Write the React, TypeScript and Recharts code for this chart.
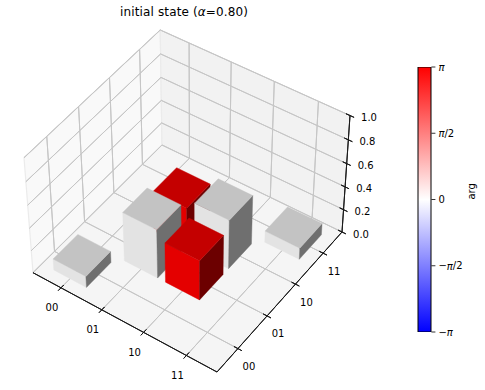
import { ScatterChart, Scatter, XAxis, YAxis, BarChart, Bar, Label } from "recharts";

// basis labels and the |rho| bars
const basis = ["00", "01", "10", "11"];
const barX = [1, 1, 2, 0, 3, 2];
const barY = [2, 1, 2, 0, 3, 1];
const barHeight = [0.35, 0.43, 0.43, 0.1, 0.1, 0.35];
const barPhase = ["pi", "zero", "zero", "zero", "zero", "pi"];
const zTicks = [0, 0.2, 0.4, 0.6, 0.8, 1];
const argTicks = [-Math.PI, -Math.PI / 2, 0, Math.PI / 2, Math.PI];
const argTickText = [["−", "π", ""], ["−", "π", "/2"], ["0", "", ""], ["", "π", "/2"], ["", "π", ""]];
const barRange = [{ name: "arg", range: [-Math.PI, Math.PI] }];

const font = "DejaVu Sans";
const lim = [-0.7, 3.7];
const barWidth = 0.81;

// camera: where the corners of the unit box land in the picture
const floorA = [33, 272.7];
const floorB = [217, 372];
const floorC = [342, 232];
const floorD = [162, 145];
const topA = [24, 155];
const topC = [350, 114];
const topD = [162, 30];

function makeCamera() {
  const [x0, y0] = floorA;
  const [x1, y1] = floorB;
  const [x2, y2] = floorC;
  const [x3, y3] = floorD;
  const dx1 = x1 - x2, dx2 = x3 - x2, sx = x0 - x1 + x2 - x3;
  const dy1 = y1 - y2, dy2 = y3 - y2, sy = y0 - y1 + y2 - y3;
  const den = dx1 * dy2 - dx2 * dy1;
  const g = (sx * dy2 - dx2 * sy) / den;
  const h = (dx1 * sy - sx * dy1) / den;
  const a = x1 - x0 + g * x1, b = x3 - x0 + h * x3;
  const d = y1 - y0 + g * y1, e = y3 - y0 + h * y3;
  const D = (u: number, v: number) => g * u + h * v + 1;
  const Nx = (u: number, v: number) => a * u + b * v + x0;
  const Ny = (u: number, v: number) => d * u + e * v + y0;
  const ka = topA[0] * D(0, 0) - Nx(0, 0);
  const kc = topC[0] * D(1, 1) - Nx(1, 1);
  const r = (kc - ka) / (topA[0] - topC[0]);
  const p = ka + topA[0] * r;
  const q = topD[1] * D(0, 1) - Ny(0, 1) + topD[1] * r;
  return (u: number, v: number, w: number) => {
    const s = D(u, v) + r * w;
    return [(Nx(u, v) + p * w) / s, (Ny(u, v) + q * w) / s];
  };
}
const camera = makeCamera();
const toUnit = (t: number) => (t - lim[0]) / (lim[1] - lim[0]);
const project = (x: number, y: number, z: number) => camera(toUnit(x), toUnit(y), z);

function facet(pts: number[][], fill: string, stroke: string, strokeWidth = 0.4) {
  const verts = pts.map(([x, y, z]) => project(x, y, z));
  return { px: verts[0][0], py: verts[0][1], verts, fill, stroke, strokeWidth };
}
const seg = (from: number[], to: number[], stroke: string, strokeWidth: number) =>
  facet([from, to], "none", stroke, strokeWidth);

const [lo, hi] = lim;
const paneEdge = "#ebebeb";
const walls = [
  facet([[lo, lo, 0], [lo, hi, 0], [lo, hi, 1], [lo, lo, 1]], "#f9f9f9", paneEdge, 1.2),
  facet([[lo, hi, 0], [hi, hi, 0], [hi, hi, 1], [lo, hi, 1]], "#f2f2f2", paneEdge, 1.2),
  facet([[lo, lo, 0], [hi, lo, 0], [hi, hi, 0], [lo, hi, 0]], "#f5f5f5", paneEdge, 1.2),
];

const gridColor = "#c6c6c6";
const grid = [
  ...basis.flatMap((_, i) => [
    seg([i, lo, 0], [i, hi, 0], gridColor, 1),
    seg([lo, i, 0], [hi, i, 0], gridColor, 1),
    seg([lo, i, 0], [lo, i, 1], gridColor, 1),
    seg([i, hi, 0], [i, hi, 1], gridColor, 1),
  ]),
  ...zTicks.flatMap((z) => [
    seg([lo, lo, z], [lo, hi, z], gridColor, 1),
    seg([lo, hi, z], [hi, hi, z], gridColor, 1),
  ]),
];

const shades: Record<string, string[]> = {
  zero: ["#c3c3c3", "#e3e3e3", "#6f6f6f"],
  pi: ["#c40000", "#e40000", "#6c0000"],
};
const bars = barX.flatMap((bx, i) => {
  const w = barWidth / 2;
  const x0 = bx - w, x1 = bx + w, y0 = barY[i] - w, y1 = barY[i] + w, z = barHeight[i];
  const [top, left, right] = shades[barPhase[i]];
  return [
    facet([[x0, y0, 0], [x1, y0, 0], [x1, y0, z], [x0, y0, z]], left, left),
    facet([[x1, y0, 0], [x1, y1, 0], [x1, y1, z], [x1, y0, z]], right, right),
    facet([[x0, y0, z], [x1, y0, z], [x1, y1, z], [x0, y1, z]], top, top),
  ];
});

const tk = 0.09;
const axes = [
  seg([lo, lo, 0], [hi, lo, 0], "#1a1a1a", 1),
  seg([hi, lo, 0], [hi, hi, 0], "#1a1a1a", 1),
  seg([hi, hi, 0], [hi, hi, 1], "#1a1a1a", 1),
  ...basis.flatMap((_, i) => [
    seg([i, lo - tk, 0], [i, lo + tk, 0], "#1a1a1a", 1),
    seg([hi - tk, i, 0], [hi + tk, i, 0], "#1a1a1a", 1),
  ]),
  ...zTicks.map((z) => seg([hi - tk, hi, z], [hi + tk, hi, z], "#1a1a1a", 1)),
];

function tickLabel(at: number[], text: string, dx: number, dy: number) {
  const [px, py] = project(at[0], at[1], at[2]);
  return { px, py, text, dx, dy };
}
const labels = [
  ...basis.map((b, i) => tickLabel([i, lo, 0], b, -9, 20)),
  ...basis.map((b, i) => tickLabel([hi, i, 0], b, 11, 18)),
  ...zTicks.map((z) => tickLabel([hi, hi, z], z.toFixed(1), 19, 2)),
];

const Facet = ({ cx, cy, payload }: any) => {
  const pts = payload.verts
    .map(([x, y]: number[]) => `${x - payload.px + cx},${y - payload.py + cy}`)
    .join(" ");
  return <polygon points={pts} fill={payload.fill} stroke={payload.stroke} strokeWidth={payload.strokeWidth} />;
};

const TickText = ({ cx, cy, payload }: any) => (
  <text x={cx + payload.dx} y={cy + payload.dy} textAnchor="middle" dominantBaseline="central"
    fontFamily={font} fontSize={10} fill="#000">
    {payload.text}
  </text>
);

const ArgTick = ({ x, y, index }: any) => {
  const [pre, sym, post] = argTickText[index];
  return (
    <text x={x} y={y} dominantBaseline="central" fontFamily={font} fontSize={10} fill="#000">
      {pre}
      <tspan fontStyle="italic">{sym}</tspan>
      {post}
    </text>
  );
};

export default function App() {
  return (
    <div style={{ position: "absolute", left: 0, top: 0, width: 485, height: 390, background: "#fff" }}>
      <div style={{ position: "absolute", left: 0, top: 0 }}>
        <ScatterChart width={485} height={390} margin={{ top: 0, right: 0, bottom: 0, left: 0 }}>
          <XAxis type="number" dataKey="px" domain={[0, 485]} hide allowDataOverflow />
          <YAxis type="number" dataKey="py" domain={[0, 390]} reversed hide allowDataOverflow />
          <Scatter data={walls} shape={Facet} isAnimationActive={false} />
          <Scatter data={grid} shape={Facet} isAnimationActive={false} />
          <Scatter data={axes} shape={Facet} isAnimationActive={false} />
          <Scatter data={bars} shape={Facet} isAnimationActive={false} />
          <Scatter data={labels} shape={TickText} isAnimationActive={false} />
          <text x={120} y={12} dominantBaseline="central" fontFamily={font} fontSize={12} fill="#000"
            textLength={128}>
            initial state (<tspan fontStyle="italic">α</tspan>=0.80)
          </text>
        </ScatterChart>
      </div>
      <div style={{ position: "absolute", left: 400, top: 50 }}>
        <BarChart width={85} height={300} data={barRange} barCategoryGap={0}
          margin={{ top: 17, right: 13.6, bottom: 18, left: 18 }}>
          <defs>
            <linearGradient id="bwr" x1="0" y1="0" x2="0" y2="1">
              <stop offset="0%" stopColor="#ff0000" />
              <stop offset="50%" stopColor="#ffffff" />
              <stop offset="100%" stopColor="#0000ff" />
            </linearGradient>
          </defs>
          <XAxis dataKey="name" hide />
          <YAxis orientation="right" width={40} type="number" domain={[-Math.PI, Math.PI]} ticks={argTicks}
            interval={0} tick={<ArgTick />} tickSize={4} tickMargin={3}
            axisLine={false} tickLine={{ stroke: "#000", strokeWidth: 0.8 }} allowDataOverflow>
            <Label value="arg" angle={-90} position="right" offset={0} fontFamily={font} fontSize={10} fill="#000" />
          </YAxis>
          <Bar dataKey="range" fill="url(#bwr)" stroke="#000" strokeWidth={1} isAnimationActive={false} />
        </BarChart>
      </div>
    </div>
  );
}
